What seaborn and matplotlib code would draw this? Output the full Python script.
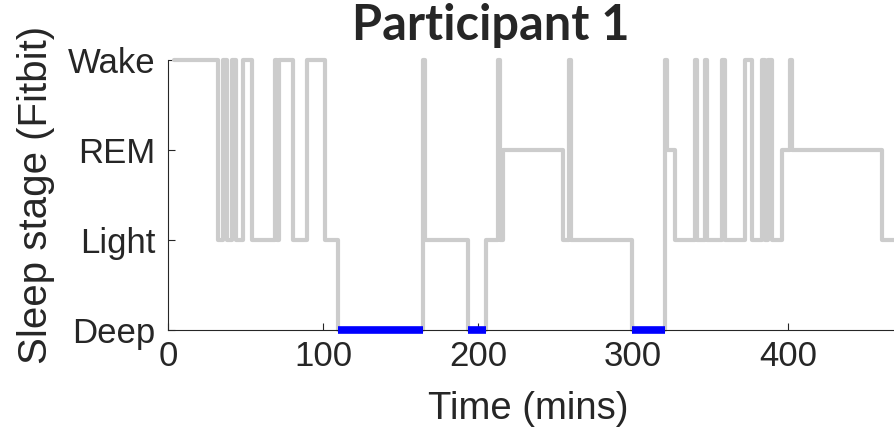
import numpy as np
import pandas as pd
import matplotlib
matplotlib.use("Agg")
import matplotlib.pyplot as plt
import seaborn as sns

# stage labels, bottom to top
stage_names = ["Deep", "Light", "REM", "Wake"]

# time (mins) at which each stage starts
change_times = [4.0, 32.3, 35.5, 38.0, 41.3, 43.9, 48.4, 54.2, 69.0, 70.3,
                71.6, 80.6, 89.7, 101.2, 109.7, 164.4, 165.8, 193.7, 205.2, 213.1,
                214.5, 216.3, 254.6, 258.9, 259.9, 299.4, 320.8, 322.2, 327.0, 340.0,
                341.5, 346.5, 347.5, 357.2, 359.4, 372.3, 376.6, 383.0, 385.2, 387.3,
                389.5, 395.9, 401.3, 402.3, 460.5, 480.0]
stages = ["Wake", "Light", "Wake", "Light", "Wake", "Light", "Wake", "Light", "Wake", "Light",
          "Wake", "Light", "Wake", "Light", "Deep", "Wake", "Light", "Deep", "Light", "Wake",
          "Light", "REM", "Light", "Wake", "Light", "Deep", "Wake", "REM", "Light", "Wake",
          "Light", "Wake", "Light", "Wake", "Light", "Wake", "Light", "Wake", "Light", "Wake",
          "Light", "REM", "Wake", "REM", "Light", "Light"]

x_ticks = [0, 100, 200, 300, 400]

sns.set_theme(style="white")
plt.rcParams['font.family'] = ['Liberation Sans', 'DejaVu Sans']

df = pd.DataFrame({"time": change_times,
                   "level": [stage_names.index(s) for s in stages]})

fig = plt.figure(figsize=(8.95, 4.42), dpi=100)
ax = fig.add_axes([168 / 895, 1 - 330 / 442, 1 - 168 / 895, 270 / 442])

sns.lineplot(data=df, x="time", y="level", estimator=None, drawstyle="steps-post",
             color=(0.8, 0.8, 0.8), linewidth=3, ax=ax, clip_on=False, zorder=2)

# deep sleep periods highlighted in blue
deep = df.index[df["level"] == 0]
for i in deep:
    ax.hlines(0, df["time"][i], df["time"][i + 1], color="#0000ff", linewidth=5.5,
              zorder=3, clip_on=False)

ax.set_xlim(0, 469)
ax.set_ylim(0, 3)
ax.set_xticks(x_ticks)
ax.set_yticks(range(4))
ax.set_yticklabels(stage_names)
ax.tick_params(direction="in", length=5, width=0.8, colors=(0.15, 0.15, 0.15),
               labelsize=25)
ax.tick_params(axis="y", pad=9)
ax.tick_params(axis="x", pad=7)
ax.tick_params(axis="x", top=False, bottom=True)
ax.tick_params(axis="y", left=True, right=False)
sns.despine(ax=ax)
for s in ["left", "bottom"]:
    ax.spines[s].set_color((0.15, 0.15, 0.15))
    ax.spines[s].set_linewidth(0.8)

ax.set_xlabel("Time (mins)", fontsize=27.5, color=(0.15, 0.15, 0.15))
ax.set_ylabel("Sleep stage (Fitbit)", fontsize=29, color=(0.15, 0.15, 0.15))
ax.xaxis.set_label_coords(0.495, -0.225)
ax.yaxis.set_label_coords(-0.155, 0.5)

fig.text(491 / 895, 1 - 25 / 442, "Participant 1", ha="center", va="center",
         fontsize=35, fontweight="bold", family=["Lato", "DejaVu Sans"])

fig.savefig("out.png", dpi=100)
